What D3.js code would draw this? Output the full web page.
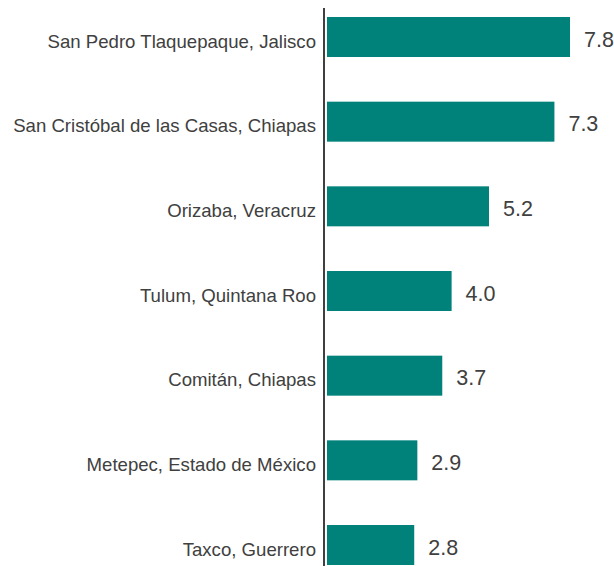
<!DOCTYPE html>
<html lang="es">
<head>
<meta charset="UTF-8">
<script src="https://cdnjs.cloudflare.com/ajax/libs/d3/7.8.5/d3.min.js"></script>
<style>
  body { margin: 0; background: #fff; font-family: "Liberation Sans", Arial, sans-serif; }
</style>
</head>
<body>
<div id="chart"></div>
<script>
  const categories = [
    "San Pedro Tlaquepaque, Jalisco",
    "San Cristóbal de las Casas, Chiapas",
    "Orizaba, Veracruz",
    "Tulum, Quintana Roo",
    "Comitán, Chiapas",
    "Metepec, Estado de México",
    "Taxco, Guerrero"
  ];
  const values = [7.8, 7.3, 5.2, 4.0, 3.7, 2.9, 2.8];

  const width = 614, height = 566;
  const axisX = 324, barX = 327;

  const svg = d3.select("#chart").append("svg")
    .attr("width", width)
    .attr("height", height);

  const x = d3.scaleLinear().domain([0, 7.8]).range([barX, 570]);
  const y = d3.scaleBand().domain(categories)
    .range([17, 565]).paddingInner(0.5276).paddingOuter(0);

  // bars
  svg.selectAll("rect.bar")
    .data(values)
    .enter().append("rect")
    .attr("class", "bar")
    .attr("x", x(0))
    .attr("y", (d, i) => y(categories[i]))
    .attr("width", d => x(d) - x(0))
    .attr("height", y.bandwidth())
    .attr("fill", "#00827b");

  // category labels
  svg.selectAll("text.cat")
    .data(categories)
    .enter().append("text")
    .attr("class", "cat")
    .attr("x", 316)
    .attr("y", d => y(d) + y.bandwidth() / 2 + 4)
    .attr("dy", "0.35em")
    .attr("text-anchor", "end")
    .attr("font-size", 18.6)
    .attr("fill", "#404040")
    .text(d => d);

  // value labels
  svg.selectAll("text.val")
    .data(values)
    .enter().append("text")
    .attr("class", "val")
    .attr("x", d => x(d) + 14)
    .attr("y", (d, i) => y(categories[i]) + y.bandwidth() / 2 + 2)
    .attr("dy", "0.35em")
    .attr("font-size", 21.5)
    .attr("fill", "#404040")
    .text(d => d.toFixed(1));

  // axis line
  svg.append("line")
    .attr("x1", axisX).attr("x2", axisX)
    .attr("y1", 8).attr("y2", height)
    .attr("stroke", "#404040")
    .attr("stroke-width", 2);
</script>
</body>
</html>
